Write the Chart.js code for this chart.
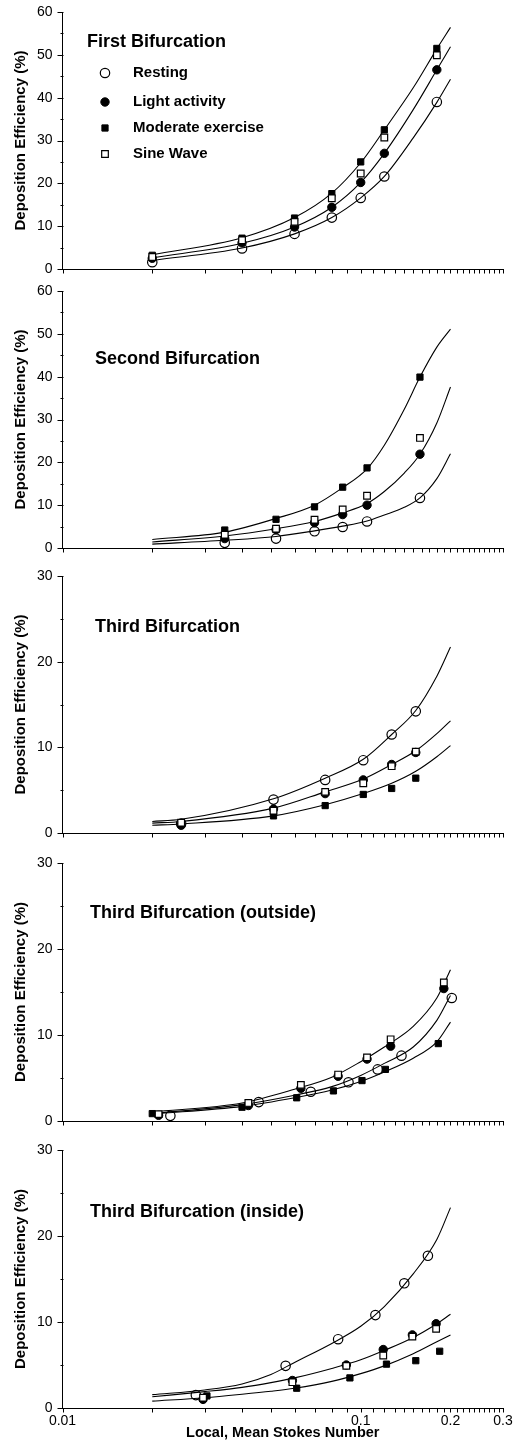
<!DOCTYPE html>
<html><head><meta charset="utf-8">
<script src="https://cdn.jsdelivr.net/npm/chart.js@4.4.1/dist/chart.umd.min.js"></script>
<style>
html,body{margin:0;padding:0;background:#fff;}
body{width:513px;height:1447px;position:relative;overflow:hidden;}
canvas{position:absolute;left:0;}
</style></head><body>
<canvas id="c1"></canvas><canvas id="c2"></canvas><canvas id="c3"></canvas><canvas id="c4"></canvas><canvas id="c5"></canvas>
<script>
// ---------- text ----------
const seriesNames = ['Resting', 'Light activity', 'Moderate exercise', 'Sine Wave'];
const panelTitles = ['First Bifurcation', 'Second Bifurcation', 'Third Bifurcation', 'Third Bifurcation (outside)', 'Third Bifurcation (inside)'];
const xAxisTitle = 'Local, Mean Stokes Number';
const yAxisTitle = 'Deposition Efficiency (%)';

// ---------- ticks ----------
const xLabeledTicks = [0.01, 0.1, 0.2, 0.3];
const xTickLabels = ['0.01', '0.1', '0.2', '0.3'];
const xMinorTicks = [0.02, 0.03, 0.04, 0.05, 0.06, 0.07, 0.08, 0.09,
  0.11, 0.12, 0.13, 0.14, 0.15, 0.16, 0.17, 0.18, 0.19,
  0.21, 0.22, 0.23, 0.24, 0.25, 0.26, 0.27, 0.28, 0.29];
const yTicks60 = [0, 10, 20, 30, 40, 50, 60];
const yMinor60 = [5, 15, 25, 35, 45, 55];
const yTicks30 = [0, 10, 20, 30];
const yMinor30 = [5, 15, 25];

// ---------- Panel 1: First Bifurcation ----------
const p1X = [0.02, 0.04, 0.06, 0.08, 0.10, 0.12, 0.18];
const p1Resting = [1.6, 4.8, 8.2, 12.0, 16.6, 21.6, 39.0];
const p1Light = [2.5, 6.1, 9.8, 14.4, 20.2, 27.0, 46.5];
const p1Moderate = [3.2, 7.2, 11.9, 17.6, 25.0, 32.5, 51.5];
const p1Sine = [2.8, 6.7, 11.0, 16.5, 22.3, 30.7, 49.9];
const p1FitX = [0.02, 0.04, 0.06, 0.08, 0.10, 0.12, 0.15, 0.18, 0.20];
const p1FitTop = [3.3, 7.3, 12.0, 17.7, 24.8, 32.5, 42.3, 51.4, 56.4];
const p1FitMid = [2.6, 6.0, 9.8, 14.4, 20.2, 27.0, 37.2, 46.5, 51.9];
const p1FitLow = [2.0, 4.9, 8.2, 12.0, 16.6, 21.6, 30.6, 38.9, 44.3];

// ---------- Panel 2: Second Bifurcation ----------
const p2X = [0.035, 0.052, 0.07, 0.087, 0.105, 0.158];
const p2Resting = [1.2, 2.2, 3.9, 4.9, 6.2, 11.7];
const p2Light = [2.2, 4.3, 5.9, 7.8, 10.0, 21.9];
const p2Moderate = [4.2, 6.7, 9.6, 14.2, 18.7, 39.9];
const p2Sine = [3.1, 4.5, 6.6, 9.0, 12.2, 25.7];
const p2FitX = [0.02, 0.035, 0.052, 0.07, 0.087, 0.105, 0.12, 0.14, 0.158, 0.18, 0.20];
const p2FitTop = [2.0, 3.7, 6.9, 10.0, 14.1, 18.5, 24.0, 32.4, 39.9, 46.9, 51.1];
const p2FitMid = [1.4, 2.8, 4.5, 6.2, 8.2, 10.4, 13.2, 17.5, 21.9, 29.2, 37.6];
const p2FitLow = [0.9, 1.8, 2.7, 4.0, 5.1, 6.3, 7.7, 9.5, 11.7, 16.2, 22.0];

// ---------- Panel 3: Third Bifurcation ----------
const p3X = [0.025, 0.051, 0.076, 0.102, 0.127, 0.153];
const p3Resting = [1.1, 3.9, 6.2, 8.5, 11.5, 14.2];
const p3Light = [0.9, 2.8, 4.6, 6.2, 8.0, 9.4];
const p3Moderate = [1.1, 2.0, 3.2, 4.5, 5.2, 6.4];
const p3Sine = [1.2, 2.6, 4.8, 5.8, 7.8, 9.5];
const p3FitX = [0.02, 0.025, 0.051, 0.076, 0.102, 0.127, 0.153, 0.18, 0.20];
const p3FitTop = [1.35, 1.6, 4.0, 6.4, 8.6, 11.5, 14.3, 18.3, 21.7];
const p3FitMid = [1.15, 1.35, 2.9, 4.8, 6.3, 8.0, 9.6, 11.6, 13.1];
const p3FitLow = [0.9, 1.05, 2.0, 3.3, 4.6, 5.8, 7.2, 8.9, 10.2];

// ---------- Panel 4: Third Bifurcation (outside) ----------
const p4RestingX = [0.023, 0.0455, 0.068, 0.091, 0.114, 0.137, 0.202];
const p4Resting = [0.6, 2.2, 3.4, 4.5, 6.0, 7.6, 14.3];
const p4LightX = [0.021, 0.042, 0.063, 0.084, 0.105, 0.126, 0.19];
const p4Light = [0.66, 1.8, 3.8, 5.2, 7.2, 8.7, 15.4];
const p4ModerateX = [0.02, 0.04, 0.061, 0.081, 0.101, 0.121, 0.182];
const p4Moderate = [0.86, 1.6, 2.7, 3.5, 4.7, 6.0, 9.0];
const p4SineX = [0.021, 0.042, 0.063, 0.084, 0.105, 0.126, 0.19];
const p4Sine = [0.8, 2.1, 4.2, 5.4, 7.4, 9.5, 16.1];
const p4FitX = [0.02, 0.04, 0.06, 0.08, 0.10, 0.12, 0.15, 0.18, 0.20];
const p4FitTop = [1.05, 2.1, 3.7, 5.1, 6.9, 8.6, 11.0, 14.3, 17.6];
const p4FitMid = [0.86, 1.9, 3.0, 4.0, 5.3, 6.7, 8.6, 11.7, 14.6];
const p4FitLow = [0.8, 1.7, 2.7, 3.6, 4.6, 5.7, 7.3, 9.2, 11.5];

// ---------- Panel 5: Third Bifurcation (inside) ----------
const p5RestingX = [0.028, 0.056, 0.084, 0.112, 0.140, 0.168];
const p5Resting = [1.5, 4.9, 8.0, 10.8, 14.5, 17.7];
const p5LightX = [0.0296, 0.059, 0.0895, 0.119, 0.149, 0.179];
const p5Light = [1.0, 3.2, 5.0, 6.8, 8.5, 9.8];
const p5ModerateX = [0.0305, 0.061, 0.092, 0.122, 0.153, 0.184];
const p5Moderate = [1.4, 2.3, 3.5, 5.1, 5.5, 6.6];
const p5SineX = [0.0296, 0.059, 0.0895, 0.119, 0.149, 0.179];
const p5Sine = [1.2, 3.0, 4.9, 6.1, 8.3, 9.2];
const p5FitX = [0.02, 0.03, 0.04, 0.05, 0.06, 0.08, 0.10, 0.12, 0.15, 0.18, 0.20];
const p5FitTop = [1.55, 2.1, 2.8, 3.9, 5.3, 7.5, 9.5, 11.8, 15.6, 19.6, 23.3];
const p5FitMid = [1.3, 1.9, 2.4, 2.95, 3.5, 4.6, 5.6, 6.7, 8.2, 9.8, 10.9];
const p5FitLow = [0.8, 1.2, 1.6, 1.95, 2.3, 3.1, 4.0, 4.9, 6.3, 7.7, 8.5];

// ---------- helpers ----------
const FONT = "'Liberation Sans', Arial, Helvetica, sans-serif";
const zip = (xs, ys) => xs.map((x, i) => ({x: x, y: ys[i]}));

const markerStyles = [
  {pointStyle: 'circle', radius: 4.7, fill: 'rgba(0,0,0,0)', border: 1.2},  // Resting: open circle
  {pointStyle: 'circle', radius: 4.2, fill: '#000', border: 1},             // Light: filled circle
  {pointStyle: 'rect', radius: 4.4, fill: '#000', border: 1},               // Moderate: filled square
  {pointStyle: 'rect', radius: 4.7, fill: '#fff', border: 1.2}              // Sine: open square
];

function scatterSet(idx, xs, ys) {
  const m = markerStyles[idx];
  return {
    type: 'scatter', label: seriesNames[idx], data: zip(xs, ys),
    pointStyle: m.pointStyle, pointRadius: m.radius, pointHoverRadius: m.radius,
    pointBackgroundColor: m.fill, pointBorderColor: '#000', pointBorderWidth: m.border,
    showLine: false, order: 4 - idx
  };
}
function fitSet(xs, ys) {
  return {
    type: 'line', label: 'fit', data: zip(xs, ys), borderColor: '#000', borderWidth: 1.1,
    pointRadius: 0, pointHoverRadius: 0, fill: false, cubicInterpolationMode: 'monotone', order: 10
  };
}

const ticksPlugin = {
  id: 'outTicks',
  afterDraw(chart, args, opts) {
    const ctx = chart.ctx, xs = chart.scales.x, ys = chart.scales.y, ca = chart.chartArea;
    ctx.save();
    ctx.strokeStyle = '#000';
    ctx.lineWidth = 1;
    ctx.beginPath();
    const left = Math.round(ca.left) + 0.5;
    const bottom = Math.round(ca.bottom) + 0.5;
    for (const v of opts.yMajor) {
      const py = Math.round(ys.getPixelForValue(v)) + 0.5;
      ctx.moveTo(left - 6, py); ctx.lineTo(left, py);
    }
    for (const v of opts.yMinor) {
      const py = Math.round(ys.getPixelForValue(v)) + 0.5;
      ctx.moveTo(left - 3, py); ctx.lineTo(left, py);
    }
    for (const v of xLabeledTicks.concat(xMinorTicks)) {
      const px = Math.round(xs.getPixelForValue(v)) + 0.5;
      ctx.moveTo(px, bottom); ctx.lineTo(px, bottom + 4);
    }
    ctx.stroke();
    ctx.restore();
  }
};

const labelsPlugin = {
  id: 'panelLabels',
  afterDraw(chart, args, opts) {
    const ctx = chart.ctx;
    ctx.save();
    ctx.fillStyle = '#000';
    ctx.textBaseline = 'middle';
    ctx.textAlign = 'left';
    ctx.font = 'bold 18px ' + FONT;
    ctx.fillText(opts.title, opts.titleX, opts.titleY);
    if (opts.legend) {
      ctx.font = 'bold 15px ' + FONT;
      const scatterSets = chart.data.datasets.filter(d => d.type === 'scatter');
      scatterSets.forEach((d, i) => {
        const y = opts.legendY[i];
        ctx.lineWidth = d.pointBorderWidth;
        ctx.strokeStyle = d.pointBorderColor;
        ctx.fillStyle = d.pointBackgroundColor;
        Chart.helpers.drawPoint(ctx, {pointStyle: d.pointStyle, radius: d.pointRadius, rotation: 0, borderWidth: d.pointBorderWidth}, opts.legendMarkerX, y);
        ctx.fillStyle = '#000';
        ctx.fillText(d.label, opts.legendTextX, y);
      });
    }
    ctx.restore();
  }
};

function makePanel(id, top, height, xScaleHeight, yMax, yTicks, yMinor, datasets, labelOpts, showXLabels) {
  const cv = document.getElementById(id);
  cv.width = 513; cv.height = height;
  cv.style.top = top + 'px';
  cv.style.width = '513px'; cv.style.height = height + 'px';
  return new Chart(cv, {
    data: {datasets: datasets},
    options: {
      responsive: false, animation: false, devicePixelRatio: 1,
      layout: {padding: {top: 10, right: 10, left: 0, bottom: 0}},
      plugins: {
        legend: {display: false}, tooltip: {enabled: false},
        outTicks: {yMajor: yTicks, yMinor: yMinor},
        panelLabels: labelOpts
      },
      scales: {
        x: {
          type: 'logarithmic', min: 0.01, max: 0.3,
          afterBuildTicks: s => { s.ticks = xLabeledTicks.map(v => ({value: v})); },
          afterFit: s => { s.height = xScaleHeight; s.paddingLeft = 0; s.paddingRight = 0; },
          grid: {display: true, drawOnChartArea: false, drawTicks: false},
          border: {display: true, color: '#000', width: 1},
          ticks: {
            display: showXLabels, autoSkip: false, maxRotation: 0, padding: 5,
            color: '#000', font: {family: FONT, size: 14},
            callback: (v, i) => xTickLabels[i]
          },
          title: {display: showXLabels, text: xAxisTitle, color: '#000',
                  font: {family: FONT, size: 14.5, weight: 'bold'}, padding: {top: 0, bottom: 5}}
        },
        y: {
          type: 'linear', min: 0, max: yMax,
          afterBuildTicks: s => { s.ticks = yTicks.map(v => ({value: v})); },
          afterFit: s => { s.width = 62.5; s.paddingTop = 0; s.paddingBottom = 0; },
          grid: {display: true, drawOnChartArea: false, drawTicks: false},
          border: {display: true, color: '#000', width: 1},
          ticks: {padding: 10, color: '#000', font: {family: FONT, size: 14}},
          title: {display: true, text: yAxisTitle, color: '#000',
                  font: {family: FONT, size: 15, weight: 'bold'}, padding: {top: 12, bottom: 0}}
        }
      }
    },
    plugins: [ticksPlugin, labelsPlugin]
  });
}

makePanel('c1', 2, 277, 10, 60, yTicks60, yMinor60, [
  scatterSet(0, p1X, p1Resting), scatterSet(1, p1X, p1Light),
  scatterSet(2, p1X, p1Moderate), scatterSet(3, p1X, p1Sine),
  fitSet(p1FitX, p1FitTop), fitSet(p1FitX, p1FitMid), fitSet(p1FitX, p1FitLow)
], {title: panelTitles[0], titleX: 87, titleY: 40, legend: true, legendMarkerX: 105,
    legendTextX: 133, legendY: [71, 100, 126, 152]}, false);

makePanel('c2', 281, 277, 10, 60, yTicks60, yMinor60, [
  scatterSet(0, p2X, p2Resting), scatterSet(1, p2X, p2Light),
  scatterSet(2, p2X, p2Moderate), scatterSet(3, p2X, p2Sine),
  fitSet(p2FitX, p2FitTop), fitSet(p2FitX, p2FitMid), fitSet(p2FitX, p2FitLow)
], {title: panelTitles[1], titleX: 95, titleY: 78, legend: false}, false);

makePanel('c3', 566, 277, 10, 30, yTicks30, yMinor30, [
  scatterSet(0, p3X, p3Resting), scatterSet(1, p3X, p3Light),
  scatterSet(2, p3X, p3Moderate), scatterSet(3, p3X, p3Sine),
  fitSet(p3FitX, p3FitTop), fitSet(p3FitX, p3FitMid), fitSet(p3FitX, p3FitLow)
], {title: panelTitles[2], titleX: 95, titleY: 61.5, legend: false}, false);

makePanel('c4', 853, 278, 10, 30, yTicks30, yMinor30, [
  scatterSet(0, p4RestingX, p4Resting), scatterSet(1, p4LightX, p4Light),
  scatterSet(2, p4ModerateX, p4Moderate), scatterSet(3, p4SineX, p4Sine),
  fitSet(p4FitX, p4FitTop), fitSet(p4FitX, p4FitMid), fitSet(p4FitX, p4FitLow)
], {title: panelTitles[3], titleX: 90, titleY: 60, legend: false}, false);

makePanel('c5', 1140, 307, 39, 30, yTicks30, yMinor30, [
  scatterSet(0, p5RestingX, p5Resting), scatterSet(1, p5LightX, p5Light),
  scatterSet(2, p5ModerateX, p5Moderate), scatterSet(3, p5SineX, p5Sine),
  fitSet(p5FitX, p5FitTop), fitSet(p5FitX, p5FitMid), fitSet(p5FitX, p5FitLow)
], {title: panelTitles[4], titleX: 90, titleY: 72.5, legend: false}, true);
</script>
</body></html>
